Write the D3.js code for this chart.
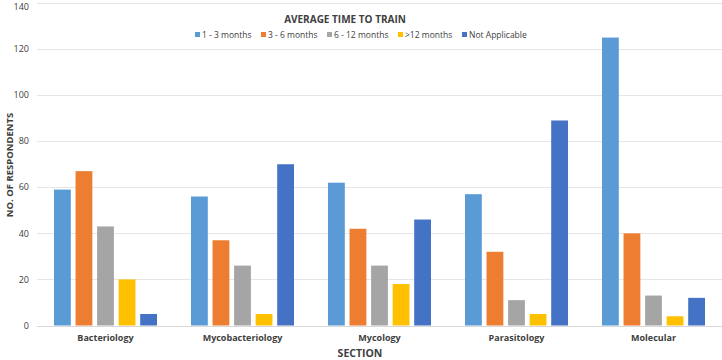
<!DOCTYPE html>
<html>
<head>
<meta charset="utf-8">
<script src="https://cdn.jsdelivr.net/npm/d3@7"></script>
<style>
  body { margin: 0; background: #fff; }
  text { font-family: "Open Sans", "Liberation Sans", sans-serif; fill: #404040; }
</style>
</head>
<body>
<div id="chart"></div>
<script>
// data
var sections = ["Bacteriology", "Mycobacteriology", "Mycology", "Parasitology", "Molecular"];
var seriesNames = ["1 - 3 months", "3 - 6 months", "6 - 12 months", ">12 months", "Not Applicable"];
var months1to3 = [59, 56, 62, 57, 125];
var months3to6 = [67, 37, 42, 32, 40];
var months6to12 = [43, 26, 26, 11, 13];
var monthsOver12 = [20, 5, 18, 5, 4];
var notApplicable = [5, 70, 46, 89, 12];
var yTicks = [0, 20, 40, 60, 80, 100, 120, 140];
var colors = ["#5B9BD5", "#ED7D31", "#A5A5A5", "#FFC000", "#4472C4"];

var seriesValues = [months1to3, months3to6, months6to12, monthsOver12, notApplicable];

var width = 722, height = 360;
var margin = {top: 3, right: 0, bottom: 34, left: 37};

var svg = d3.select("#chart").append("svg")
    .attr("width", width)
    .attr("height", height);

var x0 = d3.scaleBand()
    .domain(sections)
    .range([margin.left, width - margin.right])
    .padding(0);

var x1 = d3.scaleBand()
    .domain(seriesNames)
    .range([17, x0.bandwidth() - 17])
    .paddingInner(0.22);

var y = d3.scaleLinear()
    .domain([0, 140])
    .range([height - margin.bottom - 0.5, margin.top]);

// gridlines
svg.append("g")
  .selectAll("line")
  .data(yTicks)
  .enter()
  .append("line")
    .attr("x1", margin.left)
    .attr("x2", width - margin.right)
    .attr("y1", function(d) { return Math.round(y(d)) + 0.5; })
    .attr("y2", function(d) { return Math.round(y(d)) + 0.5; })
    .attr("stroke", function(d) { return d === 0 ? "#d9d9d9" : "#e6e6e6"; })
    .attr("stroke-width", 1);

// y tick labels (top one nudged so it is not clipped)
svg.append("g")
  .selectAll("text")
  .data(yTicks)
  .enter()
  .append("text")
    .attr("x", 29)
    .attr("y", function(d) { return Math.max(y(d), 7); })
    .attr("dy", "0.35em")
    .attr("text-anchor", "end")
    .style("font-size", "9px")
    .text(function(d) { return d; });

// bars
var groups = svg.append("g")
  .selectAll("g")
  .data(sections)
  .enter()
  .append("g")
    .attr("transform", function(d) { return "translate(" + x0(d) + ",0)"; });

groups.selectAll("rect")
  .data(function(d, i) {
    return seriesNames.map(function(s, j) { return {series: s, value: seriesValues[j][i], idx: j}; });
  })
  .enter()
  .append("rect")
    .attr("x", function(d) { return x1(d.series); })
    .attr("width", x1.bandwidth())
    .attr("y", function(d) { return y(d.value); })
    .attr("height", function(d) { return y(0) - y(d.value); })
    .attr("fill", function(d) { return colors[d.idx]; });

// category labels
svg.append("g")
  .selectAll("text")
  .data(sections)
  .enter()
  .append("text")
    .attr("x", function(d) { return x0(d) + x0.bandwidth() / 2; })
    .attr("y", 341)
    .attr("text-anchor", "middle")
    .style("font-size", "9px")
    .style("font-weight", "bold")
    .text(function(d) { return d; });

// axis titles
svg.append("text")
    .attr("x", 360)
    .attr("y", 357)
    .attr("text-anchor", "middle")
    .style("font-size", "10.5px")
    .style("font-weight", "bold")
    .text("SECTION");

svg.append("text")
    .attr("transform", "translate(13," + 165 + ") rotate(-90)")
    .attr("text-anchor", "middle")
    .style("font-size", "9.5px")
    .style("font-weight", "bold")
    .text("NO. OF RESPONDENTS");

// legend
svg.append("text")
    .attr("x", 345)
    .attr("y", 23)
    .attr("text-anchor", "middle")
    .style("font-size", "10px")
    .style("font-weight", "bold")
    .text("AVERAGE TIME TO TRAIN");

var legendX = [195, 261, 327, 398, 462];
var legend = svg.append("g")
  .selectAll("g")
  .data(seriesNames)
  .enter()
  .append("g")
    .attr("transform", function(d, i) { return "translate(" + legendX[i] + ",35)"; });

legend.append("rect")
    .attr("x", 0)
    .attr("y", -3)
    .attr("width", 5)
    .attr("height", 5)
    .attr("fill", function(d, i) { return colors[i]; });

legend.append("text")
    .attr("x", 7)
    .attr("y", 0)
    .attr("dy", "0.35em")
    .style("font-size", "8.5px")
    .text(function(d) { return d; });
</script>
</body>
</html>
